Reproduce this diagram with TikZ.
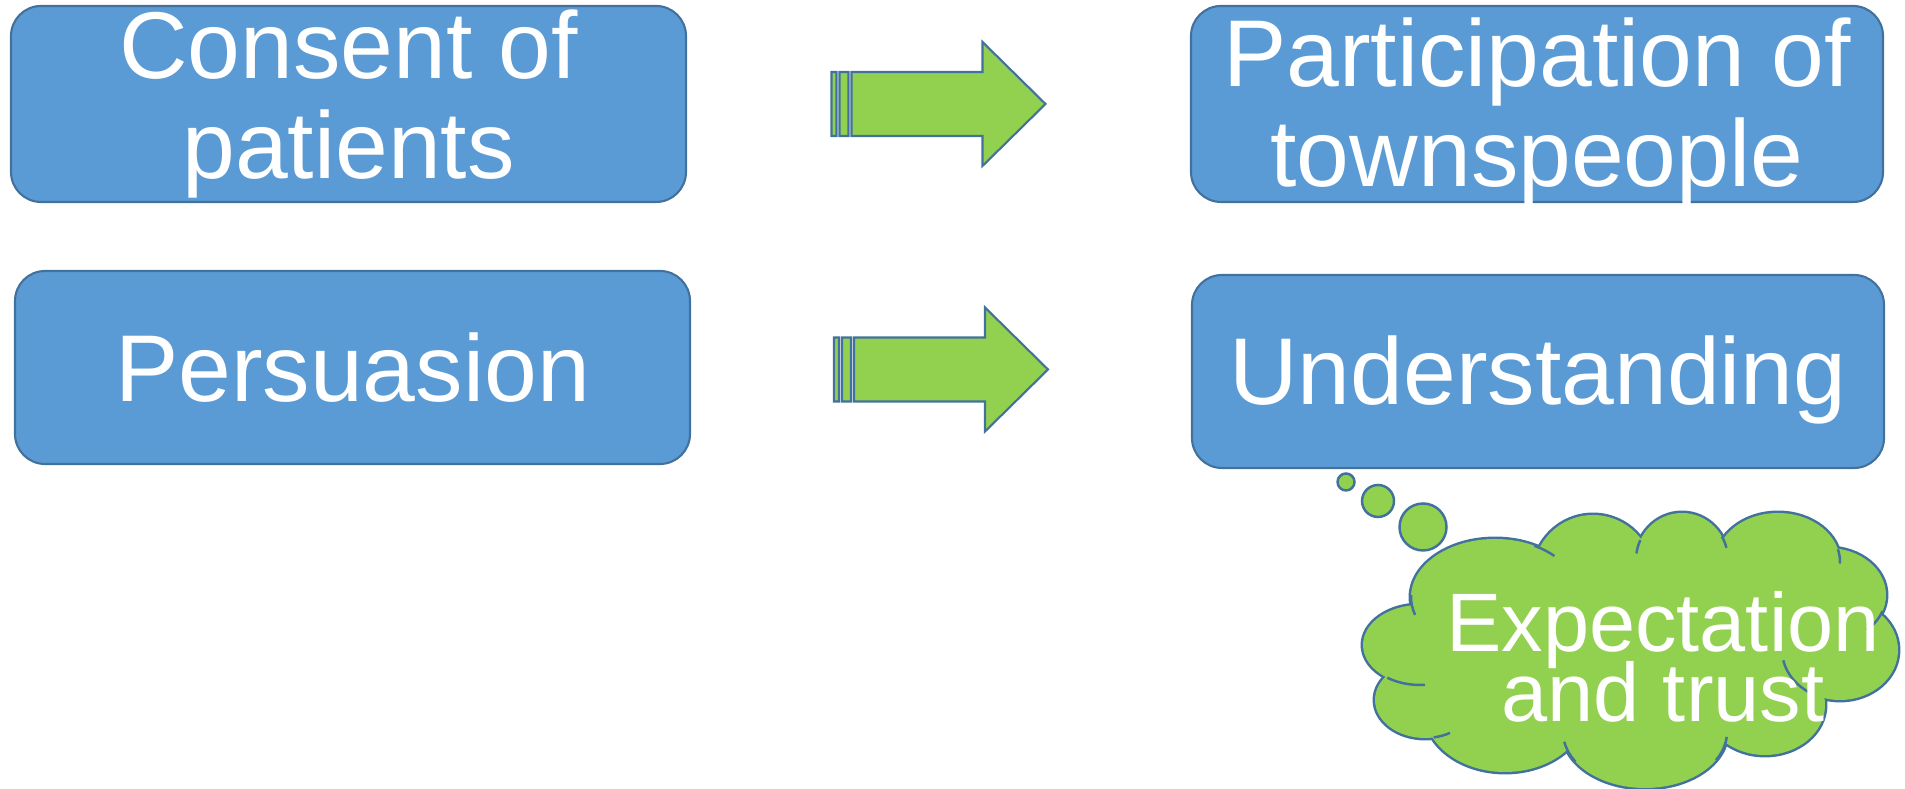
\documentclass[tikz,border=0pt]{standalone}
\usepackage{fontspec}
\setmainfont{Liberation Sans}
\usepackage{tikz}
\usetikzlibrary{calc}
\usepackage{xcolor}
\definecolor{bluBox}{HTML}{5B9BD5}
\definecolor{bluBordo}{HTML}{41719C}
\definecolor{verdeFreccia}{HTML}{92D050}
\newcommand{\frecciaBlocco}[1]{
\draw[bluBordo, fill=verdeFreccia, line width=0.6pt, shift={(#1)}]
    (-1.07,-0.32) rectangle (-1.02,0.32)
    (-0.99,-0.32) rectangle (-0.90,0.32)
    (-0.87,-0.32) -- (0.44,-0.32) -- (0.44,-0.62) -- (1.07,0) -- (0.44,0.62) -- (0.44,0.32) -- (-0.87,0.32) -- cycle;
}
\newcommand{\giu}[1]{\raisebox{-0.08cm}[\height][\depth]{#1}}
% lobi della nuvola: cx/cy/rx/ry
\newcommand{\lobi}{14.95/1.92/0.84/0.58, 14.20/1.44/0.57/0.40, 14.25/0.89/0.50/0.38, 15.05/0.77/0.80/0.60, 16.45/0.57/0.82/0.56, 17.65/0.84/0.60/0.50, 18.40/1.39/0.58/0.50, 18.28/1.94/0.58/0.47, 17.78/2.27/0.62/0.49, 16.82/2.29/0.46/0.47, 15.93/2.14/0.60/0.60}

\begin{document}
\begin{tikzpicture}[
    riquadro/.style={draw=bluBordo, line width=0.6pt, fill=bluBox, rounded corners=0.3cm, text=white, align=center, inner sep=0pt, font={\fontsize{27pt}{28.7pt}\selectfont}},
    bolla/.style={draw=bluBordo, line width=0.7pt, fill=verdeFreccia}]
    \useasboundingbox (0,0) rectangle (19.05,7.89);
    % Parametri
    \pgfmathsetmacro{\larS}{6.75}
    \pgfmathsetmacro{\larD}{6.92}
    % Riquadri
    \node[riquadro, minimum width=\larS cm, minimum height=1.96cm] (consenso) at (3.485,6.85) {Consent of\\patients};
    \node[riquadro, minimum width=\larS cm, minimum height=1.93cm] (persuasione) at (3.525,4.215) {Persuasion};
    \node[riquadro, minimum width=\larD cm, minimum height=1.96cm] (partecipazione) at (15.37,6.85) {\giu{Participation of}\\\giu{townspeople}};
    \node[riquadro, minimum width=\larD cm, minimum height=1.93cm] (comprensione) at (15.38,4.175) {\giu{Understanding}};
    % Frecce
    \coordinate (m1) at ($(consenso.east)!0.5!(partecipazione.west)$);
    \coordinate (m2) at ($(persuasione.east)!0.5!(comprensione.west)$);
    \frecciaBlocco{m1}
    \frecciaBlocco{m2}
    % Bolle
    \draw[bolla] (13.46,3.07) circle (0.085);
    \draw[bolla] (13.78,2.88) circle (0.16);
    \draw[bolla] (14.23,2.62) circle (0.235);
    % Nuvola
    \foreach \cx/\cy/\rx/\ry in \lobi
        \draw[bluBordo, line width=1.4pt] (\cx,\cy) ellipse ({\rx} and {\ry});
    \foreach \cx/\cy/\rx/\ry in \lobi
        \fill[verdeFreccia] (\cx,\cy) ellipse ({\rx} and {\ry});
    \fill[verdeFreccia] (16.30,1.39) ellipse (2.00 and 0.90);
    % archi interni
    \foreach \cx/\cy/\rx/\ry/\a/\b in {14.95/1.92/0.84/0.58/62/45, 14.95/1.92/0.84/0.58/178/198, 14.20/1.44/0.57/0.40/235/275, 14.25/0.89/0.50/0.38/280/300, 16.45/0.57/0.82/0.56/190/212, 16.45/0.57/0.82/0.56/355/330, 18.40/1.39/0.58/0.50/192/240, 18.28/1.94/0.58/0.47/340/312, 17.78/2.27/0.62/0.49/15/-2, 16.82/2.29/0.46/0.47/30/15, 16.82/2.29/0.46/0.47/155/172}
        \draw[bluBordo, line width=0.7pt] ($(\cx,\cy)+(\a:\rx cm and \ry cm)$) arc[start angle=\a, end angle=\b, x radius=\rx, y radius=\ry];
    \node[text=white, align=center, inner sep=0pt, font={\fontsize{23.6pt}{19.9pt}\selectfont\lineskiplimit=-10pt}] (fiducia) at (16.63,1.325) {Expectation\\and trust};
\end{tikzpicture}
\end{document}
